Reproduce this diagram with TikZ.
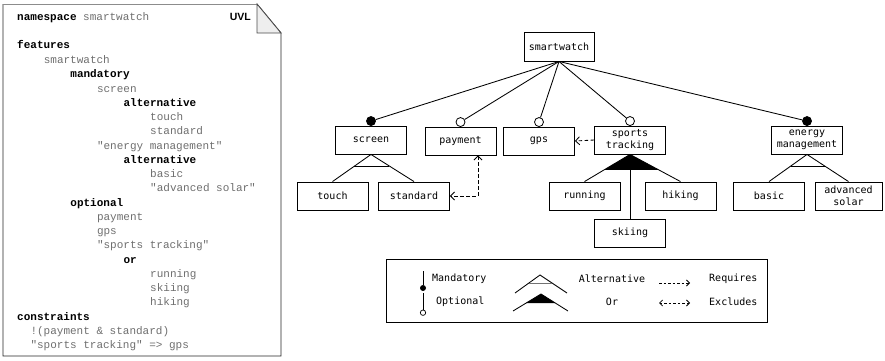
\documentclass[tikz,border=0pt]{standalone}
\usepackage{fontspec}
\setmonofont{Liberation Mono}
\newfontfamily\fmfont{DejaVu Sans Mono}
\newfontfamily\uvlfont{Liberation Sans}
\usetikzlibrary{arrows.meta,calc}
\definecolor{codegrey}{HTML}{6E6E6E}
\definecolor{foldgrey}{HTML}{EEEEEE}

\tikzset{
  feat/.style={draw, line width=0.9pt, minimum width=71pt, minimum height=28pt,
    inner sep=1pt, font=\fmfont\fontsize{10}{12.5}\selectfont, align=center},
  mand/.style={circle, draw, fill=black, minimum size=9pt, inner sep=0pt, line width=0.8pt},
  opt/.style={mand, fill=white},
  link/.style={line width=0.85pt},
  reqarrow/.style={line width=0.85pt, dash pattern=on 3.5pt off 2.5pt,
    -{Straight Barb[length=4pt,width=8pt]}},
  exarrow/.style={line width=0.85pt, dash pattern=on 3.5pt off 2.5pt,
    {Straight Barb[length=4pt,width=8pt]}-{Straight Barb[length=4pt,width=8pt]}},
  code/.style={anchor=base west, inner sep=0pt, text=codegrey,
    font=\ttfamily\fontsize{11}{13}\selectfont},
  kw/.style={anchor=base west, inner sep=0pt, text=black,
    font=\ttfamily\bfseries\fontsize{11}{13}\selectfont},
  legtext/.style={font=\fmfont\fontsize{10}{12}\selectfont, inner sep=0pt},
}

\begin{document}
\begin{tikzpicture}[x=1pt, y=-1pt]
\useasboundingbox (0,0) rectangle (885,360);

% ---------- UVL listing sheet ----------
\draw[black!85, line width=0.9pt] (257,4) -- (281,33) -- (281,356) -- (3,356) -- (3,4);
\draw[black!45, line width=0.9pt] (3,4) -- (257,4);
\filldraw[fill=foldgrey, draw=black!70, line width=0.8pt] (257,4) -- (257,33) -- (281,33) -- cycle;
\node[anchor=east, inner sep=0pt, font=\uvlfont\bfseries\fontsize{10.5}{12}\selectfont] (uvl) at (251,17) {UVL};

\node[kw]   (l1)  at (17,20.5)    {namespace \textmd{\color{codegrey}smartwatch}};
\node[kw]   (l2)  at (17,48.5)    {features};
\node[code] (l3)  at (43.6,63.5)  {smartwatch};
\node[kw]   (l4)  at (70.2,77.5)  {mandatory};
\node[code] (l5)  at (96.8,92.5)  {screen};
\node[kw]   (l6)  at (123.4,106.5) {alternative};
\node[code] (l7)  at (150,120.5)  {touch};
\node[code] (l8)  at (150,134.5)  {standard};
\node[code] (l9)  at (96.8,149.5) {"energy management"};
\node[kw]   (l10) at (123.4,163.5) {alternative};
\node[code] (l11) at (150,177.5)  {basic};
\node[code] (l12) at (150,191.5)  {"advanced solar"};
\node[kw]   (l13) at (70.2,206.5) {optional};
\node[code] (l14) at (96.8,220.5) {payment};
\node[code] (l15) at (96.8,234.5) {gps};
\node[code] (l16) at (96.8,248.5) {"sports tracking"};
\node[kw]   (l17) at (123.4,263.5) {or};
\node[code] (l18) at (150,277.5)  {running};
\node[code] (l19) at (150,291.5)  {skiing};
\node[code] (l20) at (150,305.5)  {hiking};
\node[kw]   (l21) at (17,320.5)   {constraints};
\node[code] (l22) at (30.3,334.5) {!(payment \& standard)};
\node[code] (l23) at (30.3,348.5) {"sports tracking" => gps};

% ---------- feature model ----------
\node[feat, minimum width=70pt, minimum height=29pt] (smartwatch) at (559,46.5) {smartwatch};

\node[feat] (screen)  at (371,140)   {screen};
\node[feat] (payment) at (460.5,141) {payment};
\node[feat] (gps)     at (539,141)   {gps};
\node[feat] (sports)  at (630,140)   {sports\\tracking};
\node[feat] (energy)  at (807,140)   {energy\\management};

\node[feat] (touch)    at (332.5,196) {touch};
\node[feat] (standard) at (414,196)   {standard};
\node[feat] (running)  at (584.5,196) {running};
\node[feat] (hiking)   at (680.5,196) {hiking};
\node[feat] (skiing)   at (630,233)   {skiing};
\node[feat] (basic)    at (769,196)   {basic};
\node[feat, minimum width=67pt] (solar) at (848.5,196) {advanced\\solar};

% relation markers on top of the child features
\node[mand] (mscreen)  at ($(screen.north)+(0,-4.5)$)  {};
\node[opt]  (opayment) at ($(payment.north)+(0,-4.5)$) {};
\node[opt]  (ogps)     at ($(gps.north)+(0,-4.5)$)     {};
\node[opt]  (osports)  at ($(sports.north)+(0,-4.5)$)  {};
\node[mand] (menergy)  at ($(energy.north)+(0,-4.5)$)  {};

\foreach \m in {mscreen,opayment,ogps,osports,menergy}
  \draw[link] (smartwatch.south) -- (\m);

% alternative group under screen
\draw[link] (touch.north) -- (screen.south) -- (standard.north);
\draw[link] ($(screen.south)!0.43!(touch.north)$) -- ($(screen.south)!0.43!(standard.north)$);

% alternative group under energy management
\draw[link] (basic.north) -- (energy.south) -- (solar.north);
\draw[link] ($(energy.south)!0.43!(basic.north)$) -- ($(energy.south)!0.43!(solar.north)$);

% or group under sports tracking
\fill (sports.south) -- ($(sports.south)!0.57!(running.north)$) -- ($(sports.south)!0.57!(hiking.north)$) -- cycle;
\draw[link] (running.north) -- (sports.south) -- (hiking.north);
\draw[link] (sports.south) -- (skiing.north);

% cross-tree constraints
\draw[reqarrow] (sports.west) -- (gps.east);
\draw[exarrow] ([xshift=17.5pt]payment.south) |- (standard.east);

% ---------- legend ----------
\node[draw, line width=0.9pt, minimum width=381pt, minimum height=63pt, inner sep=0pt] (legend) at (576.5,290.5) {};

\draw[link] (423,271) -- (423,285);
\fill (423,288) circle (3pt);
\draw[link] (423,293) -- (423,310);
\draw[line width=0.7pt, fill=white] (423,312.7) circle (2.7pt);
\node[legtext, anchor=west] (lmand) at (432,279) {Mandatory};
\node[legtext, anchor=west] (lopt)  at (436,302) {Optional};

\draw[link] (515,293) -- (540,275) -- (567,293);
\draw[line width=0.8pt, black!55] ($(540,275)!0.44!(515,293)$) -- ($(540,275)!0.44!(567,293)$);
\fill (541,294) -- ($(541,294)!0.53!(513,311)$) -- ($(541,294)!0.53!(568,311)$) -- cycle;
\draw[link] (513,311) -- (541,294) -- (568,311);
\node[legtext] (lalt) at (612,279) {Alternative};
\node[legtext] (lor)  at (612,302) {Or};

\coordinate (rq1) at (659,283);
\coordinate (rq2) at (690,283);
\coordinate (ex1) at (659,303);
\coordinate (ex2) at (690,303);
\draw[line width=0.8pt, dash pattern=on 2.5pt off 2pt, -{Straight Barb[length=3pt,width=6pt]}] (rq1) -- (rq2);
\draw[line width=0.8pt, dash pattern=on 2.5pt off 2pt, {Straight Barb[length=3pt,width=6pt]}-{Straight Barb[length=3pt,width=6pt]}] (ex1) -- (ex2);
\node[legtext, anchor=west] (lreq) at (709,279) {Requires};
\node[legtext, anchor=west] (lexc) at (709,302) {Excludes};
\end{tikzpicture}
\end{document}
